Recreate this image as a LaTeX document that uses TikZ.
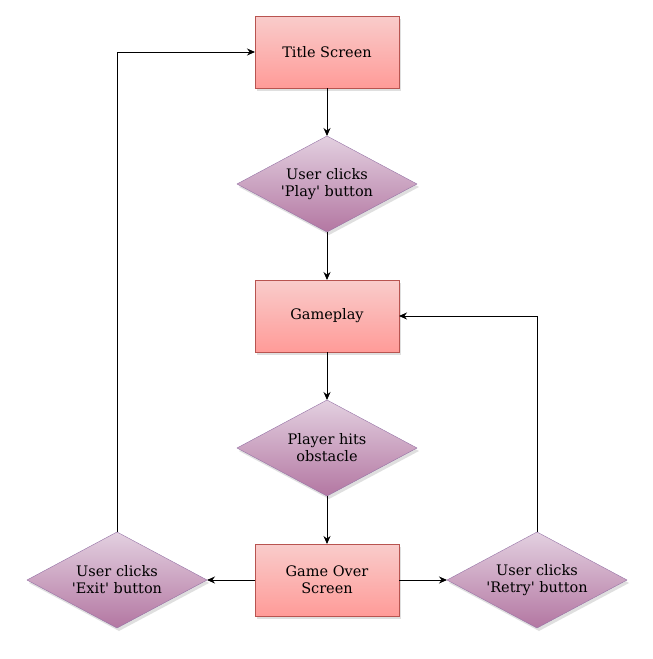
\documentclass[tikz,border=0pt]{standalone}
\usepackage{fontspec}
\setmainfont{DejaVu Serif}
\usepackage{xcolor}
\usetikzlibrary{positioning, shapes.geometric, arrows.meta, shadows}

\definecolor{rectTop}{HTML}{F9CCCB}
\definecolor{rectBot}{HTML}{FF9B98}
\definecolor{rectLine}{HTML}{B85450}
\definecolor{decTop}{HTML}{E3D0E0}
\definecolor{decBot}{HTML}{B377A2}
\definecolor{decLine}{HTML}{9673A6}
\newcommand{\tick}{\textquotesingle}

\begin{document}
\begin{tikzpicture}[
    x=1pt, y=1pt,
    node distance=48pt,
    font=\fontsize{14.5}{17}\selectfont,
    screen/.style={rectangle, draw=rectLine, top color=rectTop, bottom color=rectBot,
        minimum width=144pt, minimum height=72pt, outer sep=0pt, align=center,
        drop shadow={shadow xshift=2pt, shadow yshift=-3pt, opacity=0.25}},
    choice/.style={diamond, aspect=1.875, draw=decLine, top color=decTop, bottom color=decBot,
        minimum width=180pt, minimum height=96pt, inner sep=0pt, outer sep=0pt, align=center,
        drop shadow={shadow xshift=2pt, shadow yshift=-3pt, opacity=0.25}},
    flow/.style={draw, line width=0.9pt, -{Stealth[length=8pt, width=7pt]}}
]
\useasboundingbox (0,0) rectangle (653,-659);

\node[screen] (title) at (327,-52) {Title Screen};
\node[choice, below=of title] (play) {User clicks\\\tick Play\tick{} button};
\node[screen, below=of play] (game) {Gameplay};
\node[choice, below=of game] (hit) {Player hits\\obstacle};
\node[screen, below=of hit] (over) {Game Over\\Screen};
\node[choice, left=of over] (exit) {User clicks\\\tick Exit\tick{} button};
\node[choice, right=of over] (retry) {User clicks\\\tick Retry\tick{} button};

\draw[flow] (title) -- (play);
\draw[flow] (play) -- (game);
\draw[flow] (game) -- (hit);
\draw[flow] (hit) -- (over);
\draw[flow] (over) -- (exit);
\draw[flow] (over) -- (retry);
\draw[flow] (exit.north) |- (title.west);
\draw[flow] (retry.north) |- (game.east);
\end{tikzpicture}
\end{document}
